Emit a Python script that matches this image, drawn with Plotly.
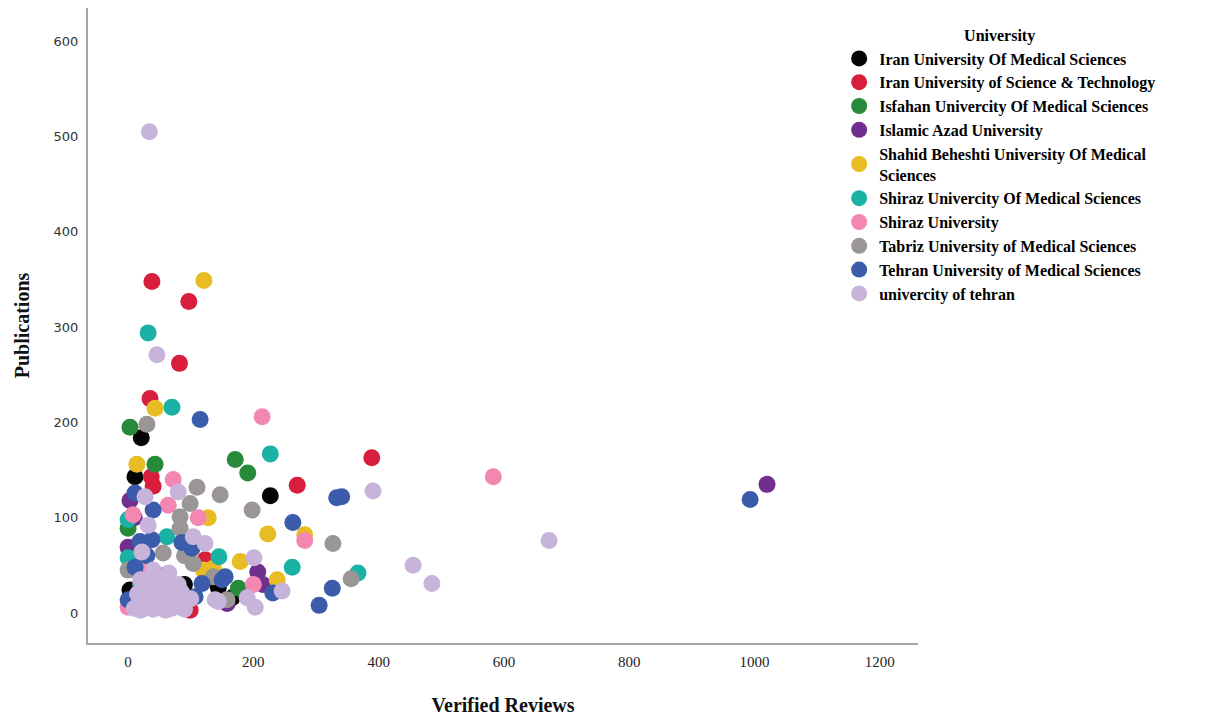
import plotly.graph_objects as go

universities = [
    "Iran University Of Medical Sciences",
    "Iran University of Science & Technology",
    "Isfahan Univercity Of Medical Sciences",
    "Islamic Azad University",
    "Shahid Beheshti University Of Medical<br>Sciences",
    "Shiraz Univercity Of Medical Sciences",
    "Shiraz University",
    "Tabriz University of Medical Sciences",
    "Tehran University of Medical Sciences",
    "univercity of tehran",
]
colors = ["#050505", "#d81e3c", "#278a3a", "#702f8e", "#e8bc23",
          "#19b2a5", "#f287b2", "#9a9696", "#3b5cab", "#c8b4da"]

iums_x = [21, 11, 227, 166, 144, 3, 51, 90]
iums_y = [184, 143, 123, 16, 27, 24, 8, 30]

iust_x = [38, 97, 82, 35, 389, 270, 37, 40, 126, 99, 20, 60, 123]
iust_y = [348, 327, 262, 225, 163, 134, 143, 133, 54, 3, 30, 10, 56]

isfahan_x = [3, 43, 171, 191, 0, 176, 20, 50]
isfahan_y = [195, 156, 161, 147, 89, 26, 40, 20]

azad_x = [1020, 3, 0, 207, 158, 10, 215, 30]
azad_y = [135, 118, 69, 43, 10, 100, 30, 40]

sbmu_x = [121, 43, 14, 128, 223, 282, 179, 136, 238, 120, 30]
sbmu_y = [349, 215, 156, 100, 83, 82, 54, 47, 35, 45, 20]

sums_x = [32, 70, 227, 62, 145, 262, 367, 0, 0, 20]
sums_y = [294, 216, 167, 80, 59, 48, 42, 98, 58, 30]

shiraz_x = [214, 583, 72, 64, 112, 8, 282, 200, 0, 19, 45]
shiraz_y = [206, 143, 140, 113, 100, 103, 76, 30, 6, 45, 20]

tabriz_x = [30, 110, 147, 198, 99, 83, 83, 56, 104, 136, 158, 327, 356, 0, 90]
tabriz_y = [198, 132, 124, 108, 115, 101, 89, 63, 52, 38, 14, 73, 36, 45, 60]

tums_x = [115, 263, 333, 341, 993, 326, 305, 231, 155, 150, 40, 11, 19, 38,
          86, 102, 11, 118, 107, 0, 60, 30]
tums_y = [203, 95, 121, 122, 119, 26, 8, 21, 38, 35, 108, 126, 75, 77,
          74, 68, 48, 31, 17, 14, 40, 60]

ut_x = [34, 46, 391, 672, 455, 485, 80, 27, 32, 104, 123, 22, 201, 246, 203,
        190, 144, 139, 10, 20, 30, 40, 50, 60, 70, 80, 90, 15, 25, 35, 45, 55,
        65, 75, 85, 20, 40, 60, 80, 30, 50, 70, 100, 40, 65]
ut_y = [505, 271, 128, 76, 50, 31, 127, 122, 92, 80, 73, 64, 58, 23, 6,
        16, 12, 14, 5, 3, 8, 4, 6, 3, 5, 8, 4, 20, 15, 22, 18, 25,
        20, 15, 22, 35, 38, 32, 30, 30, 12, 28, 15, 45, 42]

xs = [iums_x, iust_x, isfahan_x, azad_x, sbmu_x, sums_x, shiraz_x, tabriz_x, tums_x, ut_x]
ys = [iums_y, iust_y, isfahan_y, azad_y, sbmu_y, sums_y, shiraz_y, tabriz_y, tums_y, ut_y]

x_ticks = [0, 200, 400, 600, 800, 1000, 1200]
y_ticks = [0, 100, 200, 300, 400, 500, 600]

fig = go.Figure()
for name, c, x, y in zip(universities, colors, xs, ys):
    fig.add_trace(go.Scatter(
        x=x, y=y, mode="markers", name=name,
        marker=dict(color=c, size=17, line=dict(width=0), opacity=1),
    ))

serif = "Liberation Serif, Times New Roman, serif"
fig.update_layout(
    width=1203, height=709,
    paper_bgcolor="white", plot_bgcolor="white",
    margin=dict(l=80, r=293, t=0, b=74),
    showlegend=True,
    legend=dict(
        x=0.905, y=0.98, xanchor="left", yanchor="top",
        bgcolor="rgba(0,0,0,0)",
        font=dict(family=serif, size=16, color="#000000", weight="bold"),
        title=dict(text="University", side="top center",
                   font=dict(family=serif, size=16, color="#000000", weight="bold")),
        itemsizing="trace",
        tracegroupgap=0,
    ),
    xaxis=dict(
        range=[-64, 1261], tickvals=x_ticks, showgrid=False, zeroline=False,
        showline=True, linecolor="#a5a5a5", linewidth=2, ticks="",
        tickfont=dict(family=serif, size=15, color="#222222"),
        ticklabelstandoff=4,
        title=dict(text="Verified Reviews", standoff=29,
                   font=dict(family=serif, size=20, color="#111111", weight="bold")),
    ),
    yaxis=dict(
        range=[-31.5, 635], tickvals=y_ticks, showgrid=False, zeroline=False,
        showline=True, linecolor="#a5a5a5", linewidth=2, ticks="",
        tickfont=dict(family="DejaVu Sans, Verdana, sans-serif", size=13, color="#333333"),
        ticklabelstandoff=5,
        title=dict(text="Publications", standoff=19,
                   font=dict(family=serif, size=20, color="#111111", weight="bold")),
    ),
)

fig.write_html("out.html")
